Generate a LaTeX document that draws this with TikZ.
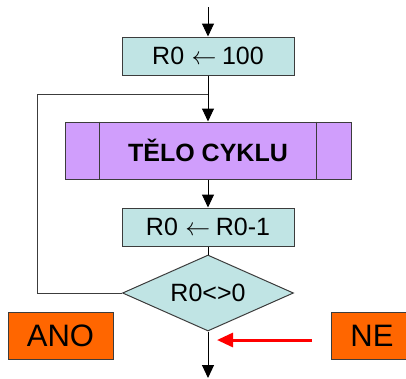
\documentclass[tikz,border=0pt]{standalone}
\usepackage{fontspec}
\setmainfont{Liberation Sans}
\usetikzlibrary{shapes.geometric}
\usetikzlibrary{arrows.meta}
\definecolor{boxcyan}{RGB}{192,228,228}
\definecolor{bodyviolet}{RGB}{208,158,252}
\definecolor{answorange}{RGB}{255,102,0}
\definecolor{edgegray}{RGB}{60,60,60}
\newcommand{\assign}{\hspace{0.3em}$\leftarrow$\hspace{0.22em}}
\tikzset{stmt/.style = {draw=edgegray, fill=boxcyan, inner sep=0pt,
                        minimum width=172pt, minimum height=38pt,
                        font=\fontsize{25}{28}\selectfont}}
\tikzset{answer/.style = {draw=edgegray, fill=answorange, inner sep=0pt,
                          minimum height=47pt,
                          font=\fontsize{31}{34}\selectfont}}
\tikzset{flow/.style = {-{Triangle[length=13pt, width=12pt]}}}

\begin{document}
\begin{tikzpicture}[x=1pt, y=-1pt, line width=1pt]
  \clip (0,0) rectangle (406,378);
  \node[stmt] (init) at (208,56) {R0\assign100};
  \node[stmt, draw=edgegray, fill=bodyviolet, minimum width=286pt, minimum height=57pt,
        font=\fontsize{25}{28}\selectfont\bfseries] (body) at (208,150.5) {TĚLO CYKLU};
  \draw[edgegray] ([xshift=35pt]body.north west) -- ([xshift=35pt]body.south west);
  \draw[edgegray] ([xshift=-35pt]body.north east) -- ([xshift=-35pt]body.south east);
  \node[stmt] (dec) at (208,227) {R0\assign R0-1};
  \node[diamond, draw=edgegray, fill=boxcyan, inner sep=0pt, aspect=2.25,
        minimum width=171pt, minimum height=76pt,
        font=\fontsize{25}{28}\selectfont] (cond) at (208,293) {R0<>0};
  \node[answer, minimum width=105pt] (yes) at (60.5,335.5) {ANO};
  \node[answer, minimum width=82pt] (no) at (372,335.5) {NE};
  % connectors
  \coordinate (in) at (208,7);
  \coordinate (join) at (208,94);
  \coordinate (back) at (37,94);
  \coordinate (out) at (208,378);
  \draw[flow] (in) -- (init);
  \draw[flow] (init) -- (body);
  \draw[flow] (body) -- (dec);
  \draw (dec) -- (cond);
  \draw[edgegray] (cond.west) -| (back) -- (join);
  \draw[flow] (cond) -- (out);
  \coordinate (redstart) at (312,340);
  \coordinate (redtip) at (217,340);
  \draw[red, line width=3pt, -{Triangle[length=16pt, width=14pt]}] (redstart) -- (redtip);
\end{tikzpicture}
\end{document}
